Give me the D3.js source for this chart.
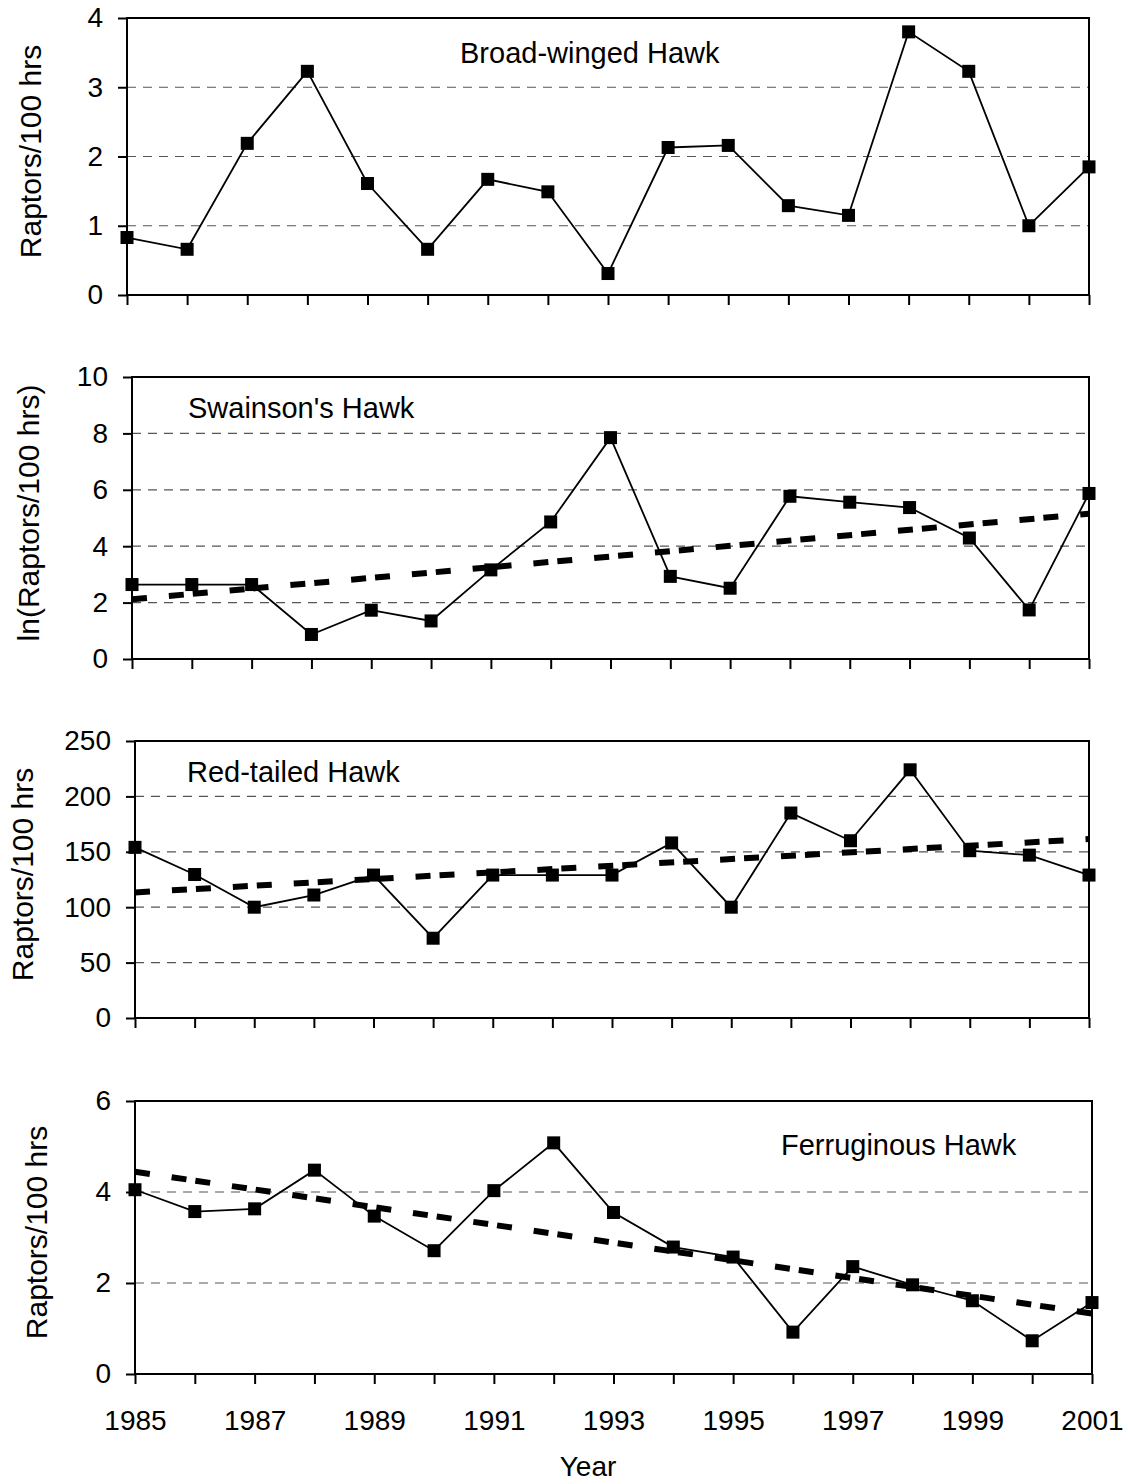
<!DOCTYPE html>
<html>
<head>
<meta charset="utf-8">
<script src="https://cdn.jsdelivr.net/npm/d3@7"></script>
<style>
  body { margin: 0; background: #fff; }
  svg { display: block; }
  text { font-family: "Liberation Sans", Arial, sans-serif; fill: #000; }
</style>
</head>
<body>
<svg id="chart" width="1128" height="1484"></svg>
<script>
// survey years
var years = [1985, 1986, 1987, 1988, 1989, 1990, 1991, 1992, 1993,
             1994, 1995, 1996, 1997, 1998, 1999, 2000, 2001];
var yearLabels = [1985, 1987, 1989, 1991, 1993, 1995, 1997, 1999, 2001];

// counts
var broadWinged = [0.83, 0.66, 2.19, 3.23, 1.61, 0.66, 1.67, 1.49, 0.31,
                   2.13, 2.16, 1.29, 1.15, 3.80, 3.23, 1.00, 1.85];
var swainsons   = [2.64, 2.64, 2.64, 0.87, 1.73, 1.35, 3.16, 4.86, 7.85,
                   2.93, 2.51, 5.77, 5.56, 5.37, 4.29, 1.74, 5.87];
var redTailed   = [154, 129.5, 100, 111, 129, 72, 129, 129, 129,
                   158, 100, 185, 160, 224, 151, 147, 129];
var ferruginous = [4.05, 3.57, 3.63, 4.48, 3.47, 2.71, 4.03, 5.08, 3.55,
                   2.79, 2.57, 0.92, 2.36, 1.96, 1.61, 0.73, 1.57];

// y tick values for each panel
var ticks1 = [0, 1, 2, 3, 4];
var ticks2 = [0, 2, 4, 6, 8, 10];
var ticks3 = [0, 50, 100, 150, 200, 250];
var ticks4 = [0, 2, 4, 6];

var panels = [
  {values: broadWinged, ticks: ticks1, title: "Broad-winged Hawk", ylab: "Raptors/100 hrs",
   trend: false, left: 127, right: 1089, top: 18, bottom: 295, tx: 460, ty: 63, lx: 30},
  {values: swainsons, ticks: ticks2, title: "Swainson's Hawk", ylab: "ln(Raptors/100 hrs)",
   trend: true, left: 132, right: 1089, top: 377, bottom: 659, tx: 188, ty: 418, lx: 28},
  {values: redTailed, ticks: ticks3, title: "Red-tailed Hawk", ylab: "Raptors/100 hrs",
   trend: true, left: 135, right: 1089, top: 741, bottom: 1018, tx: 187, ty: 782, lx: 22},
  {values: ferruginous, ticks: ticks4, title: "Ferruginous Hawk", ylab: "Raptors/100 hrs",
   trend: true, left: 135, right: 1092, top: 1101, bottom: 1374, tx: 781, ty: 1155, lx: 36, xlabels: true}
];

var svg = d3.select("#chart");

// least squares fit, like the excel trendline
function fit(xs, ys) {
  var mx = d3.mean(xs), my = d3.mean(ys);
  var sxy = d3.sum(xs, function(x, i) { return (x - mx) * (ys[i] - my); });
  var sxx = d3.sum(xs, function(x) { return (x - mx) * (x - mx); });
  var b = sxy / sxx;
  return function(x) { return my + b * (x - mx); };
}

panels.forEach(function(p) {
  var x = d3.scaleLinear().domain([1985, 2001]).range([p.left, p.right]);
  var y = d3.scaleLinear().domain([0, d3.max(p.ticks)]).range([p.bottom, p.top]);
  var g = svg.append("g");

  // dashed gridlines
  g.selectAll(".grid")
    .data(p.ticks.slice(1, -1))
    .enter().append("line")
      .attr("x1", p.left).attr("x2", p.right)
      .attr("y1", function(d) { return y(d); })
      .attr("y2", function(d) { return y(d); })
      .attr("stroke", "#555")
      .attr("stroke-width", 1.2)
      .attr("stroke-dasharray", "9,7");

  // y axis
  var ya = g.append("g")
    .attr("transform", "translate(" + p.left + ",0)")
    .call(d3.axisLeft(y).tickValues(p.ticks).tickSize(9).tickPadding(15)
      .tickFormat(function(d) { return String(d); }));
  ya.select(".domain").remove();
  ya.selectAll("line").attr("stroke", "#000").attr("stroke-width", 2);
  ya.selectAll("text").attr("font-size", 28).style("font-family", "Liberation Sans, Arial, sans-serif")
    .attr("fill", "#000");

  // x axis
  var xa = g.append("g")
    .attr("transform", "translate(0," + p.bottom + ")")
    .call(d3.axisBottom(x).tickValues(years).tickSize(10).tickPadding(26)
      .tickFormat(function(d) { return p.xlabels && yearLabels.indexOf(d) >= 0 ? String(d) : ""; }));
  xa.select(".domain").remove();
  xa.selectAll("line").attr("stroke", "#000").attr("stroke-width", 2);
  xa.selectAll("text").attr("font-size", 28).style("font-family", "Liberation Sans, Arial, sans-serif")
    .attr("fill", "#000");

  // plot frame
  g.append("rect")
    .attr("x", p.left).attr("y", p.top)
    .attr("width", p.right - p.left).attr("height", p.bottom - p.top)
    .attr("fill", "none").attr("stroke", "#000").attr("stroke-width", 2);

  // trendline
  if (p.trend) {
    var f = fit(years, p.values);
    g.append("line")
      .attr("x1", x(1985)).attr("y1", y(f(1985)))
      .attr("x2", x(2001)).attr("y2", y(f(2001)))
      .attr("stroke", "#000")
      .attr("stroke-width", 6)
      .attr("stroke-dasharray", "15,22,15,9");
  }

  // data line
  var line = d3.line()
    .x(function(d, i) { return x(years[i]); })
    .y(function(d) { return y(d); });
  g.append("path")
    .datum(p.values)
    .attr("d", line)
    .attr("fill", "none")
    .attr("stroke", "#000")
    .attr("stroke-width", 1.8);

  g.selectAll(".pt")
    .data(p.values)
    .enter().append("rect")
      .attr("x", function(d, i) { return x(years[i]) - 6.5; })
      .attr("y", function(d) { return y(d) - 6.5; })
      .attr("width", 13).attr("height", 13)
      .attr("fill", "#000");

  // labels
  g.append("text")
    .attr("x", p.tx).attr("y", p.ty)
    .attr("font-size", 29)
    .text(p.title);

  g.append("text")
    .attr("transform", "translate(" + p.lx + "," + ((p.top + p.bottom) / 2 - 5) + ") rotate(-90)")
    .attr("text-anchor", "middle")
    .attr("dy", "0.35em")
    .attr("font-size", 30)
    .text(p.ylab);
});

svg.append("text")
  .attr("x", 588).attr("y", 1476)
  .attr("text-anchor", "middle")
  .attr("font-size", 28)
  .text("Year");
</script>
</body>
</html>
